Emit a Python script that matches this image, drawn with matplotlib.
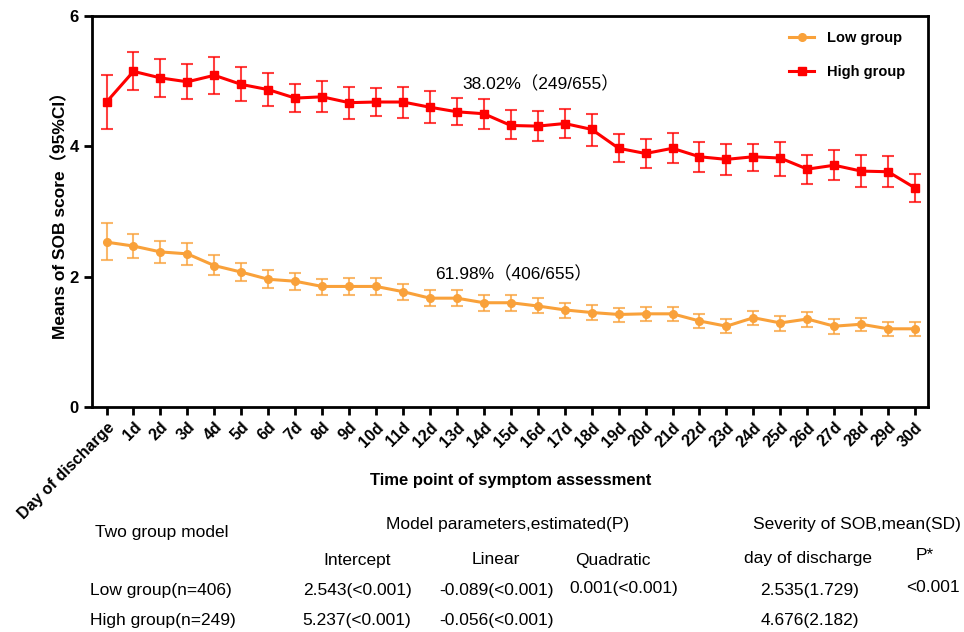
import matplotlib
matplotlib.use('Agg')
import matplotlib.pyplot as plt
import numpy as np

# ---------------------------------------------------------------------------
# Data
# ---------------------------------------------------------------------------

days = ['Day of discharge'] + [f'{d}d' for d in range(1, 31)]

high_mean = [4.68, 5.15, 5.05, 4.99, 5.09, 4.95, 4.87, 4.74, 4.76, 4.67, 4.68,
             4.68, 4.60, 4.53, 4.50, 4.32, 4.31, 4.35, 4.26, 3.97, 3.89, 3.97,
             3.84, 3.80, 3.84, 3.82, 3.65, 3.71, 3.62, 3.61, 3.36]
high_lo = [4.26, 4.87, 4.76, 4.73, 4.80, 4.69, 4.62, 4.52, 4.52, 4.42, 4.46,
           4.44, 4.36, 4.32, 4.27, 4.11, 4.08, 4.13, 4.01, 3.76, 3.67, 3.74,
           3.61, 3.56, 3.62, 3.55, 3.42, 3.48, 3.38, 3.37, 3.14]
high_hi = [5.10, 5.44, 5.34, 5.26, 5.37, 5.22, 5.13, 4.96, 5.01, 4.91, 4.90,
           4.91, 4.85, 4.74, 4.72, 4.56, 4.54, 4.57, 4.50, 4.19, 4.12, 4.21,
           4.07, 4.03, 4.04, 4.07, 3.87, 3.95, 3.86, 3.85, 3.58]

low_mean = [2.53, 2.47, 2.38, 2.35, 2.17, 2.07, 1.96, 1.93, 1.85, 1.85, 1.85,
            1.77, 1.67, 1.67, 1.60, 1.60, 1.55, 1.49, 1.45, 1.42, 1.43, 1.43,
            1.32, 1.24, 1.37, 1.29, 1.35, 1.24, 1.27, 1.20, 1.20]
low_lo = [2.25, 2.29, 2.21, 2.18, 2.02, 1.93, 1.83, 1.80, 1.72, 1.72, 1.72,
          1.64, 1.55, 1.55, 1.48, 1.48, 1.44, 1.36, 1.34, 1.30, 1.32, 1.32,
          1.21, 1.13, 1.26, 1.17, 1.23, 1.12, 1.16, 1.09, 1.09]
low_hi = [2.82, 2.65, 2.54, 2.52, 2.33, 2.21, 2.10, 2.06, 1.96, 1.98, 1.98,
          1.89, 1.80, 1.80, 1.72, 1.72, 1.67, 1.60, 1.56, 1.52, 1.54, 1.54,
          1.43, 1.35, 1.47, 1.40, 1.46, 1.35, 1.37, 1.31, 1.31]

table_rows = [
    ['Low group(n=406)', '2.543(<0.001)', '-0.089(<0.001)', '0.001(<0.001)', '2.535(1.729)', '<0.001'],
    ['High group(n=249)', '5.237(<0.001)', '-0.056(<0.001)', '', '4.676(2.182)', ''],
]

# ---------------------------------------------------------------------------
# Plot
# ---------------------------------------------------------------------------

RED = '#FF0000'
ORANGE = '#F9A13A'
plt.rcParams['font.family'] = ['Liberation Sans', 'Noto Sans CJK SC', 'DejaVu Sans']

fig = plt.figure(figsize=(9.64, 6.32), dpi=100)
ax = fig.add_axes([0.0954, 0.356, 0.8673, 0.6187])

x = np.arange(len(days))
for mean, lo, hi, col, mk, ms, lab in [
        (low_mean, low_lo, low_hi, ORANGE, 'o', 5.5, 'Low group'),
        (high_mean, high_lo, high_hi, RED, 's', 5.5, 'High group')]:
    mean = np.array(mean)
    yerr = [mean - np.array(lo), np.array(hi) - mean]
    ax.errorbar(x, mean, yerr=yerr, fmt='none', ecolor=col, alpha=0.75,
                elinewidth=1.5, capsize=4, capthick=1.5)
    ax.plot(x, mean, color=col, marker=mk, markersize=ms, linewidth=2.2, label=lab)

ax.set_xlim(-0.54, 30.48)
ax.set_ylim(0, 6)
ax.set_yticks([0, 2, 4, 6])
ax.set_xticks(x)
ax.set_xticklabels(days, rotation=45, ha='right', rotation_mode='anchor',
                   fontweight='bold', fontsize=11.5)
for lbl in ax.get_yticklabels():
    lbl.set_fontweight('bold')
    lbl.set_fontsize(12)
for s in ax.spines.values():
    s.set_linewidth(2.0)
ax.tick_params(axis='both', direction='out', length=6, width=2.0)
ax.tick_params(axis='x', pad=3)

ax.set_ylabel('Means of SOB score（95%CI）', fontweight='bold', fontsize=12.5, labelpad=0)
ax.yaxis.set_label_coords(-0.028, 0.5)
fig.text(0.53, 0.239, 'Time point of symptom assessment', ha='center', va='center',
         fontweight='bold', fontsize=12)

ax.text(13.2, 4.95, '38.02%（249/655）', ha='left', va='center', fontsize=12.5)
ax.text(12.2, 2.04, '61.98%（406/655）', ha='left', va='center', fontsize=12.5)

leg = ax.legend(loc='upper right', frameon=False, prop={'weight': 'bold', 'size': 10.5},
                handlelength=1.7, handletextpad=0.9, labelspacing=1.35,
                borderaxespad=0.3, bbox_to_anchor=(0.985, 0.987))

# summary table under the chart
fs = 12.5
def put(xpix, ypix, s, ha='center'):
    fig.text(xpix / 964, 1 - ypix / 632, s, ha=ha, va='center', fontsize=fs)

put(95, 532, 'Two group model', ha='left')
put(508, 524, 'Model parameters,estimated(P)')
put(857, 524, 'Severity of SOB,mean(SD)')
put(357, 560, 'Intercept')
put(496, 560, 'Linear')
put(613, 560, 'Quadratic')
put(808, 558, 'day of discharge')
put(925, 555, 'P*')
col_x = [357, 497, 624, 810, 933]
for row, ypix in zip(table_rows, [590, 620]):
    put(90, ypix, row[0], ha='left')
    for cx, val in zip(col_x, row[1:]):
        if val:
            put(cx, ypix - (2 if cx in (624, 933) else 0), val)

fig.savefig('out.png', dpi=100)
